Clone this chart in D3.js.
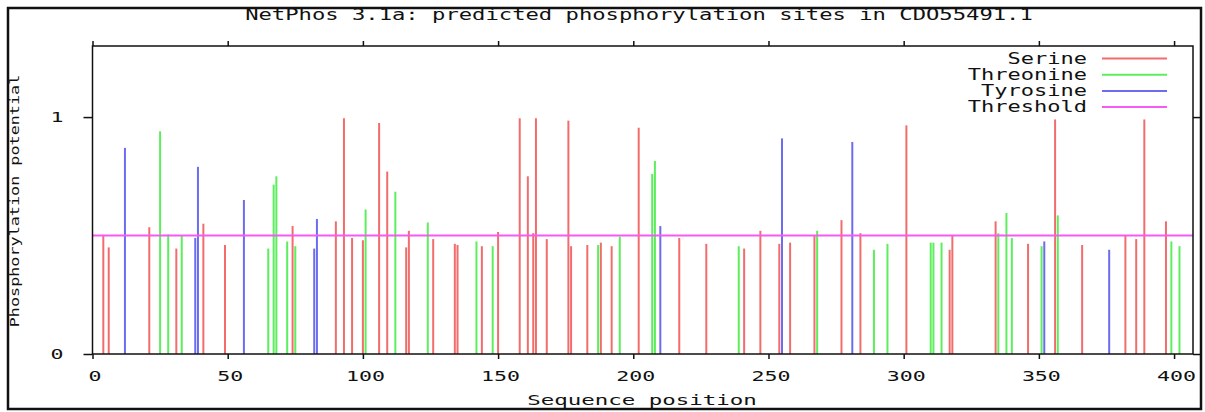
<!DOCTYPE html>
<html>
<head>
<meta charset="utf-8">
<script src="https://cdn.jsdelivr.net/npm/d3@7"></script>
<style>
  body { margin: 0; background: #fff; }
  text { font-family: "DejaVu Sans Mono", "Liberation Mono", monospace; fill: #111; }
</style>
</head>
<body>
<div id="viz"></div>
<script>
// [sequence position, potential]
var serine = [[4,0.50],[6,0.45],[21,0.535],[31,0.445],[41,0.55],[49,0.46],[74,0.54],[90,0.56],[93,0.995],
  [96,0.49],[100,0.48],[106,0.975],[109,0.77],[116,0.45],[117,0.52],[126,0.485],[134,0.465],[135,0.46],
  [144,0.455],[150,0.515],[158,0.995],[161,0.75],[163,0.51],[164,0.995],[168,0.485],[176,0.985],[177,0.455],
  [183,0.46],[188,0.47],[192,0.455],[202,0.955],[217,0.49],[227,0.465],[241,0.445],[247,0.52],[254,0.465],
  [258,0.47],[267,0.50],[277,0.565],[284,0.51],[301,0.965],[317,0.44],[318,0.50],[334,0.56],[346,0.465],
  [356,0.99],[366,0.46],[382,0.50],[386,0.485],[389,0.99],[397,0.56]];

var threonine = [[25,0.94],[28,0.505],[33,0.50],[65,0.445],[67,0.715],[68,0.75],[72,0.475],[75,0.455],
  [101,0.61],[112,0.685],[124,0.555],[142,0.475],[148,0.455],[187,0.46],[195,0.495],[207,0.76],[208,0.815],
  [239,0.455],[268,0.52],[289,0.44],[294,0.465],[310,0.47],[311,0.47],[314,0.47],[335,0.51],[338,0.595],
  [340,0.49],[351,0.455],[357,0.585],[399,0.475],[402,0.455]];

var tyrosine = [[12,0.87],[38,0.49],[39,0.79],[56,0.65],[82,0.445],[83,0.57],[210,0.54],[255,0.91],
  [281,0.895],[352,0.475],[376,0.44]];

var threshold = 0.5;
var seqLength = 407;
var xTicks = [0, 50, 100, 150, 200, 250, 300, 350, 400];
var yTicks = [0, 1];
var legendNames = ["Serine", "Threonine", "Tyrosine", "Threshold"];

var colors = {
  "Serine": "#f26c6c",
  "Threonine": "#5cee5c",
  "Tyrosine": "#6c6cf0",
  "Threshold": "#f55af5"
};

const W = 1205, H = 412;
const pLeft = 92.5, pRight = 1193, pTop = 46, pBottom = 354;
const charW = 13.35;

var svg = d3.select("#viz").append("svg")
  .attr("width", W)
  .attr("height", H);

var x = d3.scaleLinear().domain([0, seqLength]).range([pLeft, pRight]);
var y = d3.scaleLinear().domain([0, 1.3]).range([pBottom, pTop]);

// stretch mono text wide like the old gif font
function stretch(sel, cw) {
  sel.each(function () {
    var t = d3.select(this);
    t.attr("textLength", t.text().length * cw).attr("lengthAdjust", "spacingAndGlyphs");
  });
}

// outer border
svg.append("rect")
  .attr("x", 8).attr("y", 8)
  .attr("width", 1193).attr("height", 401)
  .attr("fill", "none").attr("stroke", "#111").attr("stroke-width", 2.5);

// title
svg.append("text")
  .attr("x", 639).attr("y", 20)
  .attr("text-anchor", "middle")
  .style("font-size", "15px")
  .text("NetPhos 3.1a: predicted phosphorylation sites in CDO55491.1")
  .call(stretch, charW);

// bars
var series = [["Serine", serine], ["Threonine", threonine], ["Tyrosine", tyrosine]];
series.forEach(function (s) {
  svg.append("g").selectAll("line")
    .data(s[1])
    .enter().append("line")
    .attr("x1", function (d) { return x(d[0]); })
    .attr("x2", function (d) { return x(d[0]); })
    .attr("y1", y(0))
    .attr("y2", function (d) { return y(d[1]); })
    .attr("stroke", colors[s[0]])
    .attr("stroke-width", 2);
});

// threshold
svg.append("line")
  .attr("x1", x(0)).attr("x2", x(seqLength))
  .attr("y1", y(threshold)).attr("y2", y(threshold))
  .attr("stroke", colors["Threshold"])
  .attr("stroke-width", 2);

// axes, ticks out and mirrored
var xAxis = svg.append("g")
  .attr("transform", `translate(0,${pBottom})`)
  .call(d3.axisBottom(x).tickValues(xTicks).tickSize(5).tickPadding(12).tickFormat(d3.format("d")));
xAxis.select(".domain").remove();
xAxis.selectAll("line").attr("stroke", "#111").attr("stroke-width", 1.5);
xAxis.selectAll("text")
  .attr("font-family", null).attr("dx", "2px")
  .style("font-size", "14px")
  .call(stretch, 13);

var xTop = svg.append("g")
  .attr("transform", `translate(0,${pTop})`)
  .call(d3.axisTop(x).tickValues(xTicks).tickSize(5).tickFormat(""));
xTop.select(".domain").remove();
xTop.selectAll("line").attr("stroke", "#111").attr("stroke-width", 1.5);

var yAxis = svg.append("g")
  .attr("transform", `translate(${pLeft},0)`)
  .call(d3.axisLeft(y).tickValues(yTicks).tickSize(9).tickPadding(20).tickFormat(d3.format("d")));
yAxis.select(".domain").remove();
yAxis.selectAll("line").attr("stroke", "#111").attr("stroke-width", 1.5);
yAxis.selectAll("text")
  .attr("font-family", null)
  .style("font-size", "14px")
  .call(stretch, 13);

var yRight = svg.append("g")
  .attr("transform", `translate(${pRight},0)`)
  .call(d3.axisRight(y).tickValues(yTicks).tickSize(7).tickFormat(""));
yRight.select(".domain").remove();
yRight.selectAll("line").attr("stroke", "#111").attr("stroke-width", 1.5);

// plot frame
svg.append("rect")
  .attr("x", pLeft).attr("y", pTop)
  .attr("width", pRight - pLeft).attr("height", pBottom - pTop)
  .attr("fill", "none").attr("stroke", "#111").attr("stroke-width", 1.5);

// axis titles
svg.append("text")
  .attr("x", 642).attr("y", 405)
  .attr("text-anchor", "middle")
  .style("font-size", "14px")
  .text("Sequence position")
  .call(stretch, 13.5);

svg.append("text")
  .attr("transform", "translate(19,201) rotate(-90)")
  .attr("text-anchor", "middle")
  .style("font-size", "13px")
  .text("Phosphorylation potential")
  .call(stretch, 10.1);

// legend
var legend = svg.append("g").selectAll("g")
  .data(legendNames)
  .enter().append("g")
  .attr("transform", function (d, i) { return `translate(0,${58.5 + i * 16.2})`; });

legend.append("text")
  .attr("x", 1087).attr("y", 5)
  .attr("text-anchor", "end")
  .style("font-size", "15px")
  .text(function (d) { return d; })
  .call(stretch, 13.25);

legend.append("line")
  .attr("x1", 1102).attr("x2", 1167)
  .attr("y1", 0).attr("y2", 0)
  .attr("stroke", function (d) { return colors[d]; })
  .attr("stroke-width", 2);
</script>
</body>
</html>
